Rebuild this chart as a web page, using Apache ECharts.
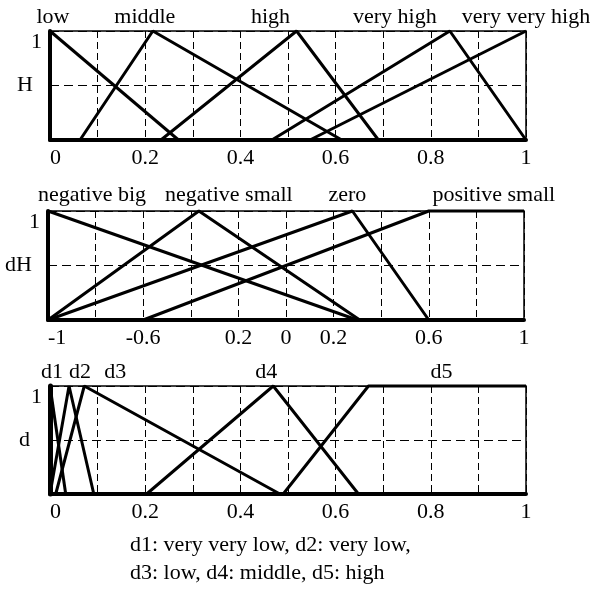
<!DOCTYPE html>
<html><head><meta charset="utf-8">
<script src="https://cdn.jsdelivr.net/npm/echarts@6/dist/echarts.min.js"></script>
<style>html,body{margin:0;padding:0;background:#fff}#c{width:591px;height:592px}</style>
</head><body><div id="c"></div>
<script>
// ---- Panel 1: H ----
const hNames = ['low', 'middle', 'high', 'very high', 'very very high'];
const hLow = [[0, 1], [0.27, 0]];
const hMiddle = [[0.063, 0], [0.216, 1], [0.613, 0]];
const hHigh = [[0.233, 0], [0.518, 1], [0.69, 0]];
const hVeryHigh = [[0.466, 0], [0.84, 1], [1, 0]];
const hVeryVeryHigh = [[0.546, 0], [1, 1]];
const hTickValues = [0, 0.2, 0.4, 0.6, 0.8, 1];
const hTickLabels = ['0', '0.2', '0.4', '0.6', '0.8', '1'];

// ---- Panel 2: dH ----
const dhNames = ['negative big', 'negative small', 'zero', 'positive small'];
const dhNegBig = [[-1, 1], [0.3, 0]];
const dhNegSmall = [[-1, 0], [-0.366, 1], [0.31, 0]];
const dhZero = [[-1, 0], [0.279, 1], [0.6, 0]];
const dhPosSmall = [[-0.6, 0], [0.6, 1], [1, 1]];
const dhTickValues = [-1, -0.6, -0.2, 0, 0.2, 0.6, 1];
const dhTickLabels = ['-1', '-0.6', '0.2', '0', '0.2', '0.6', '1'];

// ---- Panel 3: d ----
const dNames = ['d1', 'd2', 'd3', 'd4', 'd5'];
const d1 = [[0, 1], [0.033, 0]];
const d2 = [[0, 0], [0.04, 1], [0.092, 0]];
const d3 = [[0.012, 0], [0.072, 1], [0.483, 0]];
const d4 = [[0.203, 0], [0.469, 1], [0.648, 0]];
const d5 = [[0.49, 0], [0.669, 1], [1, 1]];
const dTickValues = [0, 0.2, 0.4, 0.6, 0.8, 1];
const dTickLabels = ['0', '0.2', '0.4', '0.6', '0.8', '1'];

// ---- shared ----
const yTickValues = [1];
const yTickLabels = ['1'];
const axisNames = ['H', 'dH', 'd'];
const captionLines = ['d1: very very low, d2: very low,', 'd3: low, d4: middle, d5: high'];

// ---- styles ----
const FONT = 'Liberation Serif';
const FS = 22;
const grids = [
  {left: 50, top: 31, width: 476, height: 109},
  {left: 48, top: 211, width: 476, height: 109},
  {left: 50, top: 386, width: 476, height: 108}
];
const labelShift = [[3, -8, -26, -55, 0], [44, 30, -5, 65], [2, 11, 31, -7, 73]];
const labelDist = [2, 4, 2];
const nameGaps = [17, 16, 20];

const panels = [
  {names: hNames, sets: [hLow, hMiddle, hHigh, hVeryHigh, hVeryVeryHigh], min: 0, max: 1, interval: 0.1, tv: hTickValues, tl: hTickLabels},
  {names: dhNames, sets: [dhNegBig, dhNegSmall, dhZero, dhPosSmall], min: -1, max: 1, interval: 0.2, tv: dhTickValues, tl: dhTickLabels},
  {names: dNames, sets: [d1, d2, d3, d4, d5], min: 0, max: 1, interval: 0.1, tv: dTickValues, tl: dTickLabels}
];

function lookup(vals, labels, v) {
  for (let i = 0; i < vals.length; i++) if (Math.abs(vals[i] - v) < 1e-6) return labels[i];
  return '';
}

const xAxes = [], yAxes = [], series = [];
panels.forEach((p, gi) => {
  xAxes.push({
    type: 'value', gridIndex: gi, min: p.min, max: p.max, interval: p.interval,
    axisLine: {show: true, onZero: false, lineStyle: {color: '#000', width: 4}},
    axisTick: {show: false},
    splitLine: {show: true, lineStyle: {color: '#000', width: 1, type: [7, 4]}},
    axisLabel: {
      show: true, margin: 7, color: '#000', fontFamily: FONT, fontSize: FS,
      showMinLabel: true, showMaxLabel: true, hideOverlap: false, alignMinLabel: 'left',
      formatter: v => lookup(p.tv, p.tl, v)
    }
  });
  yAxes.push({
    type: 'value', gridIndex: gi, min: 0, max: 1, interval: 0.5,
    name: axisNames[gi], nameLocation: 'middle', nameRotate: 0, nameGap: nameGaps[gi],
    nameMoveOverlap: false,
    nameTextStyle: {color: '#000', fontFamily: FONT, fontSize: FS, align: 'right', verticalAlign: 'middle'},
    axisLine: {show: true, onZero: false, lineStyle: {color: '#000', width: gi === 2 ? 5 : 4}},
    axisTick: {show: false},
    splitLine: {show: true, lineStyle: {color: '#000', width: 1, type: [9, 5]}},
    axisLabel: {
      show: true, margin: 8, color: '#000', fontFamily: FONT, fontSize: FS, verticalAlign: 'top',
      formatter: v => lookup(yTickValues, yTickLabels, v)
    }
  });
  p.sets.forEach((pts, si) => {
    const peak = pts.findIndex(q => q[1] === 1);
    const data = pts.map((q, k) => k === peak ? {
      value: q,
      label: {
        show: true, position: 'top', distance: labelDist[gi], offset: [labelShift[gi][si], 0],
        formatter: p.names[si], color: '#000', fontFamily: FONT, fontSize: FS
      }
    } : {value: q});
    series.push({
      type: 'line', name: p.names[si], xAxisIndex: gi, yAxisIndex: gi, data: data,
      clip: false, symbol: 'circle', symbolSize: 1, showSymbol: true,
      itemStyle: {color: 'rgba(0,0,0,0)'},
      lineStyle: {color: '#000', width: 3},
      label: {show: false},
      emphasis: {disabled: true}, silent: true, z: 5
    });
  });
});

const chart = echarts.init(document.getElementById('c'), null, {renderer: 'canvas'});
chart.setOption({
  animation: false,
  backgroundColor: '#fff',
  textStyle: {fontFamily: FONT},
  title: {
    text: captionLines.join('\n'), left: 130, top: 531, padding: 0,
    textStyle: {color: '#000', fontFamily: FONT, fontSize: FS, fontWeight: 'normal', lineHeight: 28}
  },
  grid: grids.map(g => Object.assign({show: true, borderColor: '#000', borderWidth: 1.5, backgroundColor: 'transparent', containLabel: false, outerBoundsMode: 'none'}, g)),
  xAxis: xAxes,
  yAxis: yAxes,
  series: series
});
</script>
</body></html>
